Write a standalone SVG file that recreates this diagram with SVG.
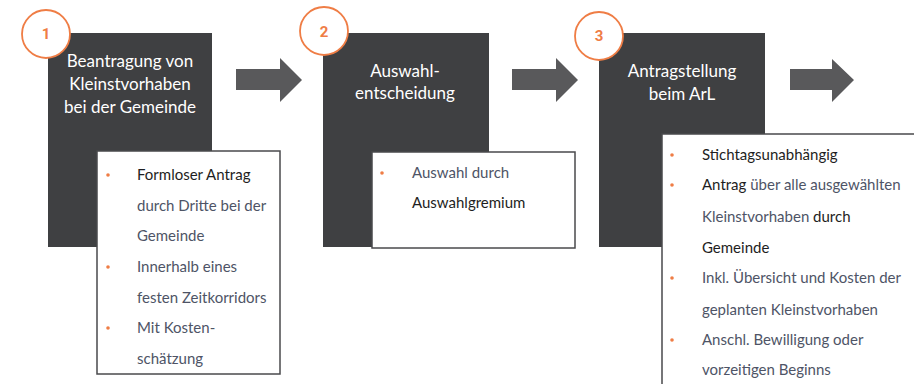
<svg xmlns="http://www.w3.org/2000/svg" width="914" height="384" viewBox="0 0 914 384">
<style>
.box{fill:#3f4042}
.card{fill:#ffffff;stroke:#4a4a4c;stroke-width:1.5}
.ring{fill:#ffffff;stroke:#ef7d45;stroke-width:1.8}
.num{font-family:"Roboto","Liberation Sans",sans-serif;font-weight:bold;font-size:15px;fill:#ef7d45;text-anchor:middle}
.title{font-family:"Lato","Open Sans",sans-serif;font-size:17px;fill:#ffffff;text-anchor:middle}
.txt{font-family:"Lato","Open Sans",sans-serif;font-size:15px;fill:#4e5466}
.dk{fill:#1e1e22}
.dot{fill:#ef7d45}
.arrow{fill:#59595b}
</style>
<rect width="914" height="384" fill="#ffffff"/>
<g id="connectors">
<path class="arrow" d="M236,69 H280 V58 L302,80 L280,102 V90 H236 Z"/>
<path class="arrow" d="M512,69 H556 V58 L578,80 L556,102 V90 H512 Z"/>
<path class="arrow" d="M790,69 H832 V59 L854,80 L832,102 V90 H790 Z"/>
</g>
<g id="step1">
<rect class="box" x="48" y="33" width="164" height="214"/>
<circle class="ring" cx="46" cy="34" r="24"/>
<text class="num" x="46" y="39">1</text>
<text class="title" x="130" y="67">Beantragung von</text>
<text class="title" x="130" y="90">Kleinstvorhaben</text>
<text class="title" x="130" y="113">bei der Gemeinde</text>
<rect class="card" x="97" y="151" width="183" height="223"/>
<circle class="dot" cx="108" cy="175" r="1.8"/>
<circle class="dot" cx="108" cy="267" r="1.8"/>
<circle class="dot" cx="108" cy="328" r="1.8"/>
<text class="txt" x="137" y="180"><tspan class="dk">Formloser Antrag</tspan></text>
<text class="txt" x="137" y="211">durch Dritte bei der</text>
<text class="txt" x="137" y="241">Gemeinde</text>
<text class="txt" x="137" y="272">Innerhalb eines</text>
<text class="txt" x="137" y="303">festen Zeitkorridors</text>
<text class="txt" x="137" y="333">Mit Kosten-</text>
<text class="txt" x="137" y="364">schätzung</text>
</g>
<g id="step2">
<rect class="box" x="323" y="33" width="166" height="214"/>
<circle class="ring" cx="324" cy="31" r="24"/>
<text class="num" x="324" y="37">2</text>
<text class="title" x="405" y="77">Auswahl-</text>
<text class="title" x="405" y="99">entscheidung</text>
<rect class="card" x="372" y="152" width="203" height="96"/>
<circle class="dot" cx="382" cy="173" r="1.8"/>
<text class="txt" x="412" y="178">Auswahl durch</text>
<text class="txt" x="412" y="208"><tspan class="dk">Auswahlgremium</tspan></text>
</g>
<g id="step3">
<rect class="box" x="599" y="33" width="166" height="214"/>
<circle class="ring" cx="599" cy="36" r="24"/>
<text class="num" x="599" y="41">3</text>
<text class="title" x="682" y="77">Antragstellung</text>
<text class="title" x="682" y="100">beim ArL</text>
<path class="card" d="M916,134 H662 V386"/>
<rect x="663" y="135" width="252" height="250" fill="#ffffff"/>
<circle class="dot" cx="672" cy="155" r="1.8"/>
<circle class="dot" cx="672" cy="185" r="1.8"/>
<circle class="dot" cx="672" cy="278" r="1.8"/>
<circle class="dot" cx="672" cy="340" r="1.8"/>
<text class="txt" x="702" y="160"><tspan class="dk">Stichtagsunabhängig</tspan></text>
<text class="txt" x="702" y="190"><tspan class="dk">Antrag</tspan> über alle ausgewählten</text>
<text class="txt" x="702" y="222">Kleinstvorhaben <tspan class="dk">durch</tspan></text>
<text class="txt" x="702" y="253"><tspan class="dk">Gemeinde</tspan></text>
<text class="txt" x="702" y="283">Inkl. Übersicht und Kosten der</text>
<text class="txt" x="702" y="315">geplanten Kleinstvorhaben</text>
<text class="txt" x="702" y="345">Anschl. Bewilligung oder</text>
<text class="txt" x="702" y="375">vorzeitigen Beginns</text>
</g>
</svg>
